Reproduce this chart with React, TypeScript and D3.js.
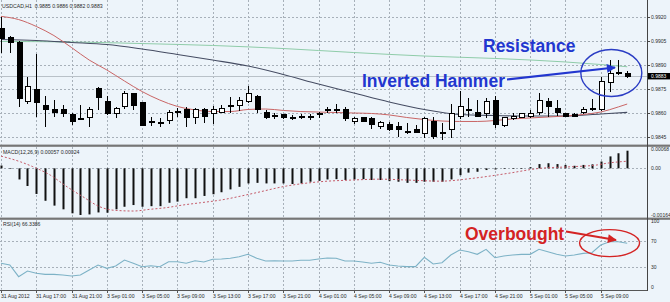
import React from 'react';
import * as d3 from 'd3';

const W = 670;
const H = 302;
const BG = '#edf4fa';
const FONT = '"Liberation Sans", Arial, sans-serif';

// ---------- data ----------
const timeLabels = [
  '31 Aug 2012', '31 Aug 17:00', '31 Aug 21:00', '3 Sep 01:00', '3 Sep 05:00', '3 Sep 09:00',
  '3 Sep 13:00', '3 Sep 17:00', '3 Sep 21:00', '4 Sep 01:00', '4 Sep 05:00', '4 Sep 09:00',
  '4 Sep 13:00', '4 Sep 17:00', '4 Sep 21:00', '5 Sep 01:00', '5 Sep 05:00', '5 Sep 09:00',
];
const labelStep = 4;

const opens = [
  0.99131, 0.99069, 0.99038, 0.98675, 0.98750, 0.98644, 0.98625, 0.98619, 0.98588, 0.98563,
  0.98569, 0.98756, 0.98675, 0.98600, 0.98638, 0.98719, 0.98663, 0.98538, 0.98538, 0.98556,
  0.98606, 0.98619, 0.98575, 0.98625, 0.98594, 0.98606, 0.98644, 0.98644, 0.98669, 0.98706,
  0.98606, 0.98581, 0.98588, 0.98563, 0.98581, 0.98569, 0.98588, 0.98613, 0.98619, 0.98619,
  0.98550, 0.98575, 0.98563, 0.98513, 0.98531, 0.98513, 0.98484, 0.98494, 0.98475, 0.98544,
  0.98469, 0.98494, 0.98581, 0.98625, 0.98606, 0.98594, 0.98681, 0.98519, 0.98563, 0.98569,
  0.98581, 0.98606, 0.98669, 0.98631, 0.98600, 0.98588, 0.98606, 0.98631, 0.98625, 0.98788,
  0.98856, 0.98850,
];
const highs = [
  0.99200, 0.99081, 0.99050, 0.98825, 0.98969, 0.98706, 0.98681, 0.98650, 0.98600, 0.98650,
  0.98638, 0.98763, 0.98706, 0.98638, 0.98738, 0.98725, 0.98669, 0.98575, 0.98569, 0.98619,
  0.98631, 0.98638, 0.98631, 0.98631, 0.98644, 0.98650, 0.98700, 0.98700, 0.98769, 0.98713,
  0.98619, 0.98600, 0.98591, 0.98588, 0.98594, 0.98594, 0.98606, 0.98638, 0.98656, 0.98638,
  0.98573, 0.98578, 0.98575, 0.98550, 0.98544, 0.98544, 0.98538, 0.98525, 0.98575, 0.98575,
  0.98538, 0.98656, 0.98738, 0.98694, 0.98681, 0.98694, 0.98706, 0.98575, 0.98600, 0.98600,
  0.98619, 0.98725, 0.98694, 0.98681, 0.98603, 0.98600, 0.98638, 0.98688, 0.98825, 0.98931,
  0.98931, 0.98860,
];
const lows = [
  0.98975, 0.98975, 0.98638, 0.98656, 0.98575, 0.98513, 0.98575, 0.98575, 0.98525, 0.98556,
  0.98513, 0.98619, 0.98588, 0.98569, 0.98625, 0.98619, 0.98519, 0.98519, 0.98513, 0.98531,
  0.98575, 0.98513, 0.98531, 0.98538, 0.98531, 0.98600, 0.98600, 0.98613, 0.98663, 0.98600,
  0.98563, 0.98563, 0.98563, 0.98556, 0.98563, 0.98556, 0.98569, 0.98600, 0.98600, 0.98550,
  0.98531, 0.98544, 0.98500, 0.98500, 0.98488, 0.98450, 0.98469, 0.98477, 0.98444, 0.98438,
  0.98431, 0.98444, 0.98563, 0.98575, 0.98573, 0.98569, 0.98506, 0.98513, 0.98556, 0.98566,
  0.98569, 0.98588, 0.98575, 0.98581, 0.98575, 0.98575, 0.98594, 0.98613, 0.98613, 0.98731,
  0.98838, 0.98820,
];
const closes = [
  0.99063, 0.99038, 0.98688, 0.98763, 0.98663, 0.98619, 0.98606, 0.98600, 0.98550, 0.98560,
  0.98619, 0.98694, 0.98594, 0.98631, 0.98725, 0.98650, 0.98525, 0.98550, 0.98540, 0.98606,
  0.98609, 0.98569, 0.98619, 0.98581, 0.98619, 0.98631, 0.98647, 0.98681, 0.98719, 0.98625,
  0.98569, 0.98584, 0.98569, 0.98575, 0.98578, 0.98581, 0.98600, 0.98625, 0.98616, 0.98563,
  0.98567, 0.98550, 0.98531, 0.98538, 0.98500, 0.98494, 0.98481, 0.98481, 0.98563, 0.98456,
  0.98481, 0.98594, 0.98638, 0.98619, 0.98581, 0.98669, 0.98531, 0.98569, 0.98581, 0.98594,
  0.98600, 0.98681, 0.98638, 0.98606, 0.98581, 0.98581, 0.98625, 0.98619, 0.98800, 0.98850,
  0.98844, 0.98830,
];

// moving averages (read at sample bars)
const maFastBar = [0, 2, 4, 6, 8, 10, 12, 14, 16, 18, 20, 22, 24, 26, 28, 30, 32, 34, 36, 38, 40, 42, 44, 46, 48, 50, 52, 54, 56, 58, 60, 62, 64, 66, 68, 70, 71];
const maFastVal = [
  0.99204, 0.99184, 0.99141, 0.99084, 0.99009, 0.98931, 0.98869, 0.98800, 0.98734, 0.98681,
  0.98641, 0.98619, 0.98609, 0.98609, 0.98622, 0.98625, 0.98616, 0.98609, 0.98606, 0.98603,
  0.98600, 0.98597, 0.98588, 0.98572, 0.98559, 0.98550, 0.98547, 0.98547, 0.98553, 0.98563,
  0.98569, 0.98575, 0.98581, 0.98591, 0.98606, 0.98638, 0.98656,
];
const maSlowBar = [0, 4, 8, 12, 16, 20, 24, 28, 32, 36, 40, 44, 48, 52, 56, 60, 64, 68, 71];
const maSlowVal = [
  0.99059, 0.99053, 0.99041, 0.99028, 0.99000, 0.98966, 0.98931, 0.98894, 0.98841, 0.98781,
  0.98725, 0.98669, 0.98622, 0.98591, 0.98584, 0.98581, 0.98581, 0.98594, 0.98604,
];
const maLongBar = [0, 8, 16, 24, 32, 40, 48, 56, 64, 68, 71];
const maLongVal = [0.99047, 0.99044, 0.99034, 0.99022, 0.99003, 0.98978, 0.98956, 0.98941, 0.98919, 0.98903, 0.98889];

const lastPrice = 0.9883;

const macdHist = [
  0.00010, 0.00001, -0.00039, -0.00062, -0.00090, -0.00114, -0.00131, -0.00144, -0.00158, -0.00164,
  -0.00162, -0.00155, -0.00156, -0.00144, -0.00135, -0.00129, -0.00135, -0.00133, -0.00133, -0.00121,
  -0.00117, -0.00105, -0.00105, -0.00097, -0.00091, -0.00084, -0.00074, -0.00065, -0.00053, -0.00051,
  -0.00053, -0.00053, -0.00053, -0.00055, -0.00053, -0.00047, -0.00044, -0.00039, -0.00038, -0.00041,
  -0.00039, -0.00038, -0.00041, -0.00041, -0.00045, -0.00047, -0.00051, -0.00051, -0.00047, -0.00047,
  -0.00047, -0.00039, -0.00024, -0.00015, -0.00012, -0.00006, -0.00004, -0.00002, -0.00001, 0.00001,
  0.00004, 0.00015, 0.00018, 0.00015, 0.00012, 0.00009, 0.00012, 0.00014, 0.00024, 0.00042,
  0.00053, 0.00062,
];
const signalBar = [0, 2.2, 3.6, 5.6, 7.5, 9.3, 11.2, 12.7, 15, 16.9, 18.8, 20.6, 22.6, 24.8, 28.6, 32.4, 36.2, 39.9, 43, 46, 49.8, 53.5, 57.4, 61.1, 64.9, 67.6, 68.7, 71];
const signalVal = [
  0.00043, 0.00023, 0.00006, -0.00024, -0.00065, -0.00100, -0.00135, -0.00147, -0.00150, -0.00144,
  -0.00138, -0.00129, -0.00121, -0.00112, -0.00088, -0.00062, -0.00047, -0.00041, -0.00038, -0.00041,
  -0.00045, -0.00035, -0.00018, 0.00000, 0.00006, 0.00012, 0.00018, 0.00025,
];

const rsiVals = [
  36, 33.3, 15.6, 24.2, 20.8, 19.2, 19.2, 18.2, 16.7, 18.2,
  25.8, 33.3, 28.3, 31.8, 40.9, 35.9, 30.8, 32.3, 30.8, 38.3,
  38.3, 35.9, 39.8, 37.9, 42, 42.4, 43.5, 45.9, 49.5, 43.5,
  39.4, 39.8, 39.4, 39.4, 40.5, 40.5, 42.4, 43.9, 43.5, 39.4,
  39.4, 37.9, 35.9, 37.4, 33.3, 31.8, 30.8, 30.8, 45, 34.8,
  36.8, 48.5, 56.1, 53.5, 49.5, 57.1, 44.4, 47, 48.5, 49.5,
  49.5, 57.1, 53.5, 49.5, 47, 48.5, 51, 52, 63.6, 68.6,
  68.6, 66.34,
];

const priceTicks = [0.992, 0.9905, 0.989, 0.9875, 0.986, 0.9845];
const macdTicks = [0.00068, 0, -0.00164];
const macdTickText = ['0.00068', '0.00', '-0.00164'];
const rsiTicks = [100, 70, 30, 0];
const rsiGrid = [70, 30];

const headerMain = 'USDCAD,H1  0.9885 0.9886 0.9882 0.9883';
const headerMacd = 'MACD(12,26,9) 0.00057 0.00024';
const headerRsi = 'RSI(14) 66.3386';

export default function App() {
  const n = opens.length;
  const x = d3.scaleLinear().domain([0, n - 1]).range([1, 627.2]);
  const yP = d3.scaleLinear().domain([0.9845, 0.992]).range([137, 17]);
  const yM = d3.scaleLinear().domain([-0.00164, 0.00068]).range([215, 149]);
  const yR = d3.scaleLinear().domain([0, 100]).range([287, 221]);
  const AXX = 647;
  const panels: [number, number][] = [[0, 144.5], [147, 217.5], [220, 289.5]];

  const maLine = (bars: number[], vals: number[]) =>
    d3.line<number>().x((_, i) => x(bars[i])).y((v) => yP(v)).curve(d3.curveMonotoneX)(vals) || '';
  const signalPath = d3.line<number>().x((_, i) => x(signalBar[i])).y((v) => yM(v)).curve(d3.curveMonotoneX)(signalVal) || '';
  const rsiPath = d3.line<number>().x((_, i) => x(i)).y((v) => yR(v))(rsiVals) || '';

  const gridXs = timeLabels.map((_, k) => Math.round(x(k * labelStep)) + 0.5);
  const grid = '#a7b0b9';
  const textCol = '#2a2a2a';

  return (
    <svg width={W} height={H} style={{ position: 'absolute', left: 0, top: 0, display: 'block' }} fontFamily={FONT}>
      <defs>
        <clipPath id="cMain"><rect x={0} y={0} width={AXX} height={144.5} /></clipPath>
        <clipPath id="cMacd"><rect x={0} y={147} width={AXX} height={70.5} /></clipPath>
        <marker id="arB" viewBox="0 0 10 10" refX="9" refY="5" markerWidth="11" markerHeight="9" markerUnits="userSpaceOnUse" orient="auto">
          <path d="M0,0 L10,5 L0,10 z" fill="#2236cf" />
        </marker>
        <marker id="arR" viewBox="0 0 10 10" refX="9" refY="5" markerWidth="11" markerHeight="9" markerUnits="userSpaceOnUse" orient="auto">
          <path d="M0,0 L10,5 L0,10 z" fill="#d42323" />
        </marker>
      </defs>
      <rect x={0} y={0} width={W} height={H} fill={BG} />

      {/* vertical grid */}
      {panels.map(([t, b], pi) =>
        gridXs.map((gx, k) => (
          <line key={`vg${pi}-${k}`} x1={gx} x2={gx} y1={t} y2={b} stroke={grid} strokeWidth={1} strokeDasharray="2,2" />
        ))
      )}
      {/* horizontal grid */}
      {priceTicks.map((p, k) => (
        <line key={`hp${k}`} x1={0} x2={AXX} y1={Math.round(yP(p)) + 0.5} y2={Math.round(yP(p)) + 0.5} stroke={grid} strokeDasharray="2,2" />
      ))}
      <line x1={0} x2={AXX} y1={Math.round(yM(0)) + 0.5} y2={Math.round(yM(0)) + 0.5} stroke={grid} strokeDasharray="2,2" />
      {rsiGrid.map((r, k) => (
        <line key={`hr${k}`} x1={0} x2={AXX} y1={Math.round(yR(r)) + 0.5} y2={Math.round(yR(r)) + 0.5} stroke={grid} strokeDasharray="2,2" />
      ))}

      {/* current price line */}
      <line x1={0} x2={AXX} y1={Math.round(yP(lastPrice)) + 0.5} y2={Math.round(yP(lastPrice)) + 0.5} stroke="#b9c1c8" strokeWidth={1} />

      {/* moving averages */}
      <g clipPath="url(#cMain)" fill="none">
        <path d={maLine(maLongBar, maLongVal)} stroke="#8fcca9" strokeWidth={1} />
        <path d={maLine(maSlowBar, maSlowVal)} stroke="#454c62" strokeWidth={1.1} />
        <path d={maLine(maFastBar, maFastVal)} stroke="#c96565" strokeWidth={1} />
      </g>

      {/* candles */}
      <g clipPath="url(#cMain)" shapeRendering="crispEdges">
        {opens.map((o, i) => {
          const c = closes[i];
          const cx = Math.round(x(i)) + 0.5;
          const top = yP(Math.max(o, c));
          const bot = yP(Math.min(o, c));
          const bull = c >= o;
          return (
            <g key={`c${i}`}>
              <line x1={cx} x2={cx} y1={yP(highs[i])} y2={yP(lows[i])} stroke="#000" strokeWidth={1} />
              <rect x={cx - 2.5} y={top} width={5} height={Math.max(bot - top, 1)} fill={bull ? '#fff' : '#000'} stroke="#000" strokeWidth={1} />
            </g>
          );
        })}
      </g>

      {/* MACD */}
      <g clipPath="url(#cMacd)">
        {macdHist.map((v, i) => {
          const y0 = yM(0);
          const y1 = yM(v);
          return (
            <rect key={`m${i}`} x={Math.round(x(i)) - 0.5} y={Math.min(y0, y1)} width={2} height={Math.max(Math.abs(y1 - y0), 0.6)} fill="#111" />
          );
        })}
        <path d={signalPath} fill="none" stroke="#c45a68" strokeWidth={1} strokeDasharray="2,2" />
      </g>

      {/* RSI */}
      <path d={rsiPath} fill="none" stroke="#7db2c6" strokeWidth={1.1} />

      {/* separators and axes */}
      <rect x={0} y={144.6} width={W} height={2.2} fill="#767676" />
      <rect x={0} y={217.6} width={W} height={2.2} fill="#767676" />
      <line x1={0} x2={AXX} y1={290.5} y2={290.5} stroke="#555" strokeWidth={1} />
      <line x1={AXX + 0.5} x2={AXX + 0.5} y1={0} y2={291} stroke="#444" strokeWidth={1} />

      {/* x axis ticks and labels */}
      {timeLabels.map((t, k) => (
        <g key={`xl${k}`}>
          <line x1={gridXs[k]} x2={gridXs[k]} y1={290.5} y2={293} stroke="#555" />
          <text x={gridXs[k] - 0.5} y={297.8} fontSize={5.1} fill={textCol}>{t}</text>
        </g>
      ))}

      {/* right axis labels */}
      {priceTicks.map((p, k) => (
        <g key={`pl${k}`}>
          <line x1={AXX} x2={AXX + 3} y1={Math.round(yP(p)) + 0.5} y2={Math.round(yP(p)) + 0.5} stroke="#444" />
          <text x={651} y={yP(p) + 1.8} fontSize={5} fill={textCol}>{p.toFixed(4)}</text>
        </g>
      ))}
      <rect x={648} y={yP(lastPrice) - 3.2} width={22} height={6.4} fill="#000" />
      <text x={651} y={yP(lastPrice) + 1.8} fontSize={5} fill="#fff">{lastPrice.toFixed(4)}</text>
      {macdTicks.map((m, k) => (
        <text key={`ml${k}`} x={651} y={yM(m) + 1.8} fontSize={5} fill={textCol}>{macdTickText[k]}</text>
      ))}
      {rsiTicks.map((r, k) => (
        <text key={`rl${k}`} x={651} y={yR(r) + 1.8} fontSize={5} fill={textCol}>{String(r)}</text>
      ))}

      {/* headers */}
      <text x={2} y={8.3} fontSize={5.2} fill={textCol} style={{ whiteSpace: 'pre' }}>{headerMain}</text>
      <text x={3} y={154} fontSize={5.2} fill={textCol}>{headerMacd}</text>
      <text x={3} y={225.7} fontSize={5.1} fill={textCol}>{headerRsi}</text>

      {/* annotations */}
      <text x={483} y={51.7} fontSize={17.5} fontWeight="bold" fill="#2236cf">Resistance</text>
      <text x={362} y={87.3} fontSize={17.5} fontWeight="bold" fill="#2236cf">Inverted Hammer</text>
      <ellipse cx={x(69.2)} cy={yP(0.9885)} rx={30.5} ry={23.5} fill="none" stroke="#2a3cc4" strokeWidth={1.4} />
      <line x1={507} y1={79.5} x2={615} y2={67.5} stroke="#2236cf" strokeWidth={2.2} markerEnd="url(#arB)" />

      <text x={465} y={240} fontSize={17.5} fontWeight="bold" fill="#d42323">Overbought</text>
      <ellipse cx={x(69)} cy={yR(66.5)} rx={30} ry={13.5} fill="none" stroke="#d42323" strokeWidth={1.4} />
      <line x1={566} y1={231.5} x2={616} y2={240} stroke="#d42323" strokeWidth={2} markerEnd="url(#arR)" />
    </svg>
  );
}
